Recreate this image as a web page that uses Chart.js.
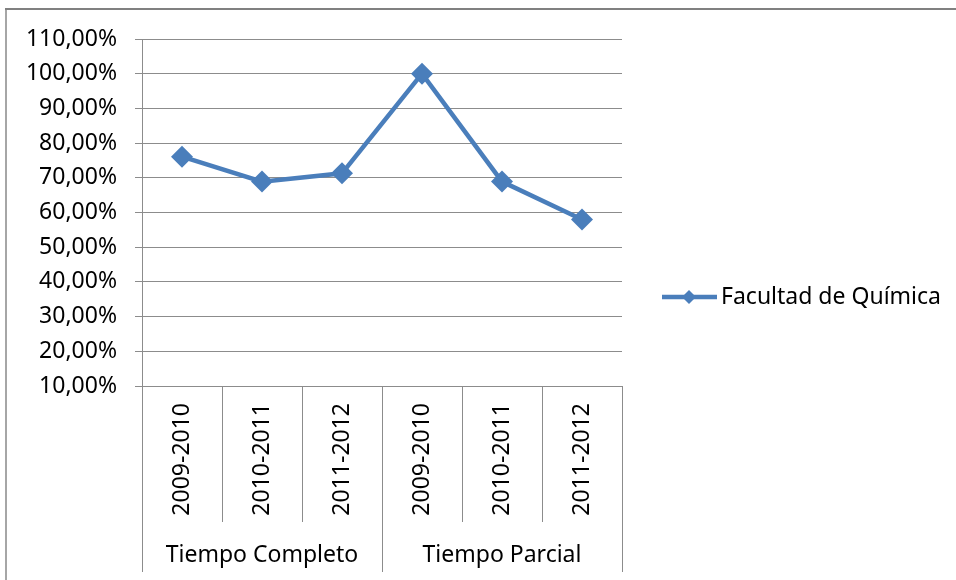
<!DOCTYPE html>
<html>
<head>
<meta charset="utf-8">
<script src="https://cdn.jsdelivr.net/npm/chart.js@4.4.1/dist/chart.umd.min.js"></script>
<style>
	html, body { margin: 0; padding: 0; background: #fff; }
	#wrap { width: 956px; height: 580px; }
</style>
</head>
<body>
<div id="wrap"><canvas id="chart" width="956" height="580"></canvas></div>
<script>
const categories = ["2009-2010", "2010-2011", "2011-2012", "2009-2010", "2010-2011", "2011-2012"]
const groupLabels = ["Tiempo Completo", "Tiempo Parcial"]
const groupSizes = [3, 3]
const seriesName = "Facultad de Química"
const values = [76.1, 68.9, 71.3, 100, 68.9, 58.0]
const yTicks = [10, 20, 30, 40, 50, 60, 70, 80, 90, 100, 110]

const lineColor = "#4a7ebb"
const gridColor = "#8c8c8c"
const textFont = { family: "'Noto Sans', sans-serif", size: 23 }

// frame, category boxes under the axis, group labels and the legend
const decorations = {
	id: "decorations",
	beforeDraw(chart) {
		const ctx = chart.ctx
		ctx.save()
		ctx.fillStyle = "#fff"
		ctx.fillRect(0, 0, chart.width, chart.height)
		ctx.fillStyle = "#a6a6a6"
		ctx.fillRect(5, 9, 2, chart.height - 9)
		ctx.fillStyle = "#808080"
		ctx.fillRect(5, 8, chart.width - 5, 2)
		ctx.restore()
	},
	afterDraw(chart) {
		const ctx = chart.ctx
		const x = chart.scales.x
		const area = chart.chartArea
		const step = x.getPixelForValue(1) - x.getPixelForValue(0)
		ctx.save()
		ctx.strokeStyle = gridColor
		ctx.lineWidth = 1

		// separators between categories and between groups
		const groupEnds = []
		let acc = 0
		groupSizes.forEach(n => { acc += n; groupEnds.push(acc) })
		for (let i = 0; i <= categories.length; i++) {
			const px = Math.round(x.getPixelForValue(i) - step / 2) + 0.5
			const isGroupEdge = i === 0 || groupEnds.includes(i)
			ctx.beginPath()
			ctx.moveTo(px, area.bottom)
			ctx.lineTo(px, isGroupEdge ? 572 : 522)
			ctx.stroke()
		}

		// group labels
		ctx.fillStyle = "#000"
		ctx.font = textFont.size + "px " + textFont.family
		ctx.textAlign = "center"
		ctx.textBaseline = "middle"
		let start = 0
		groupLabels.forEach((label, g) => {
			const end = start + groupSizes[g] - 1
			const cx = (x.getPixelForValue(start) + x.getPixelForValue(end)) / 2
			ctx.fillText(label, cx, 555)
			start += groupSizes[g]
		})

		// legend
		const ly = 297
		ctx.strokeStyle = lineColor
		ctx.lineWidth = 4.5
		ctx.beginPath()
		ctx.moveTo(662, ly)
		ctx.lineTo(717, ly)
		ctx.stroke()
		ctx.fillStyle = lineColor
		ctx.beginPath()
		ctx.moveTo(689 - 7, ly)
		ctx.lineTo(689, ly - 7)
		ctx.lineTo(689 + 7, ly)
		ctx.lineTo(689, ly + 7)
		ctx.closePath()
		ctx.fill()
		ctx.fillStyle = "#000"
		ctx.textAlign = "left"
		ctx.fillText(seriesName, 721, ly)
		ctx.restore()
	}
}

new Chart(document.getElementById("chart").getContext("2d"), {
	type: "line",
	data: {
		labels: categories,
		datasets: [
			{
				label: seriesName,
				data: values,
				borderColor: lineColor,
				backgroundColor: lineColor,
				borderWidth: 4.5,
				tension: 0,
				pointStyle: "rectRot",
				pointRadius: 11,
				pointBorderWidth: 0,
				pointBackgroundColor: lineColor
			}
		]
	},
	options: {
		responsive: false,
		animation: false,
		devicePixelRatio: 1,
		layout: {
			padding: { top: 39, right: 334, bottom: 0, left: 0 }
		},
		scales: {
			y: {
				type: "linear",
				min: 10,
				max: 110,
				afterBuildTicks: scale => {
					scale.ticks = yTicks.map(v => ({ value: v }))
				},
				afterFit: scale => {
					scale.width = 142
				},
				ticks: {
					color: "#000",
					font: textFont,
					padding: 18,
					callback: v => v.toFixed(2).replace(".", ",") + "%"
				},
				grid: {
					color: gridColor,
					tickLength: 7
				},
				border: {
					color: gridColor
				}
			},
			x: {
				offset: true,
				afterFit: scale => {
					scale.height = 194
				},
				ticks: {
					color: "#000",
					font: textFont,
					autoSkip: false,
					maxRotation: 90,
					minRotation: 90,
					padding: 17
				},
				grid: {
					display: false,
					drawTicks: false,
					offset: true
				},
				border: {
					color: gridColor
				}
			}
		},
		plugins: {
			legend: {
				display: false
			},
			tooltip: {
				enabled: false
			}
		}
	},
	plugins: [decorations]
})
</script>
</body>
</html>
